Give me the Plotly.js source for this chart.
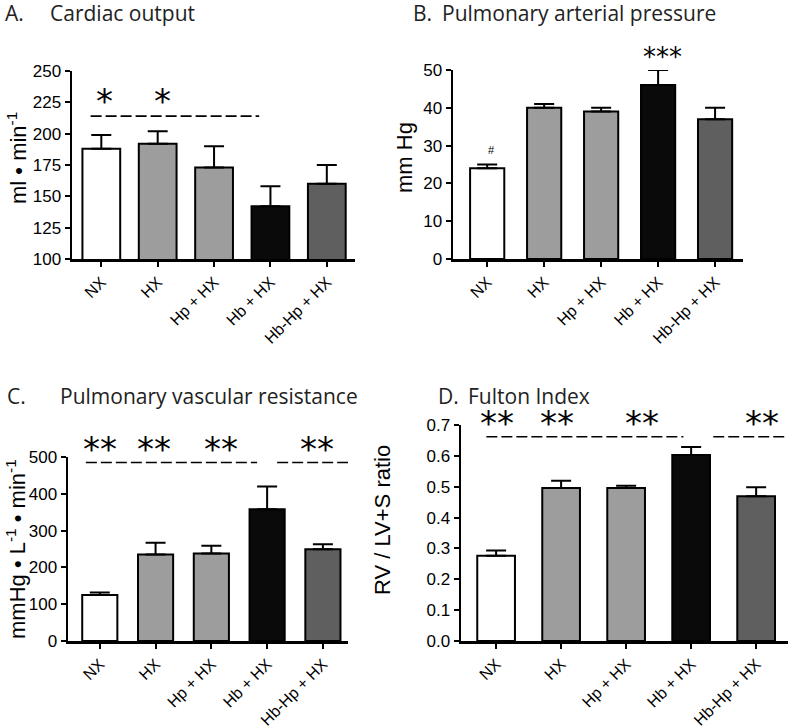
<!DOCTYPE html>
<html>
<head>
<meta charset="utf-8">
<script src="https://cdn.plot.ly/plotly-3.0.1.min.js"></script>
<style>html,body{margin:0;padding:0;background:#fff;}#chart{width:800px;height:726px;}</style>
</head>
<body>
<div id="chart"></div>
<script>
// ---- data ----
var groups = ["NX", "HX", "Hp + HX", "Hb + HX", "Hb-Hp + HX"];

var cardiacOutput    = [188, 192, 173, 142, 160];
var cardiacOutputErr = [11, 10, 17, 16, 15];

var papMean = [24, 40, 39, 46, 37];
var papErr  = [1, 1, 1, 4, 3];

var pvrMean = [125, 235, 238, 358, 249];
var pvrErr  = [7, 32, 21, 62, 14];

var fulton    = [0.276, 0.496, 0.496, 0.603, 0.469];
var fultonErr = [0.017, 0.023, 0.007, 0.026, 0.029];

var barColors = ["#ffffff", "#9d9d9d", "#9d9d9d", "#0a0a0a", "#5f5f5f"];

// significance markers (data units): lines [x from, x to, y], stars [x, y, text]
var sigLinesA = [[-0.19, 2.8, 214]];
var sigStarsA = [[0.05, 226, "*"], [1.08, 226, "*"]];
var sigStarsB = [[3.07, 53.4, "***"]];
var hashB     = [[0.07, 28.8, "#"]];
var sigLinesC = [[-0.25, 2.82, 485], [3.18, 4.6, 485]];
var sigStarsC = [[0, 521, "**"], [0.98, 521, "**"], [2.18, 521, "**"], [3.89, 521, "**"]];
var sigLinesD = [[-0.15, 2.88, 0.662], [3.34, 4.7, 0.662]];
var sigStarsD = [[0.02, 0.708, "**"], [0.94, 0.708, "**"], [2.25, 0.708, "**"], [4.09, 0.708, "**"]];

// ---- axes setup ----
var dom = {
  x:  [72/800, 355/800],  y:  [1 - 259/726, 1 - 71/726],
  x2: [453/800, 743/800], y2: [1 - 259/726, 1 - 70/726],
  x3: [68/800, 348/800],  y3: [1 - 641/726, 1 - 457/726],
  x4: [461/800, 788/800], y4: [1 - 641/726, 1 - 425/726]
};
var rng = {
  x: [-0.52, 4.5], y: [100, 250],
  x2: [-0.6, 4.49], y2: [0, 50],
  x3: [-0.57, 4.45], y3: [0, 500],
  x4: [-0.54, 4.49], y4: [0, 0.7]
};
function toPaperY(ya, v) {
  var d = dom[ya], r = rng[ya];
  return d[0] + (v - r[0]) / (r[1] - r[0]) * (d[1] - d[0]);
}

// ---- traces ----
function barTrace(vals, errs, xa, ya, w) {
  return {
    type: "bar", x: groups, y: vals, xaxis: xa, yaxis: ya, width: w,
    marker: {color: barColors, line: {color: "#000", width: 2}},
    error_y: {type: "data", array: errs, arrayminus: errs.map(function(){return 0;}),
              visible: true, color: "#000", thickness: 2, width: 10},
    showlegend: false, hoverinfo: "x+y"
  };
}
var data = [
  barTrace(cardiacOutput, cardiacOutputErr, "x", "y", 0.67),
  barTrace(papMean, papErr, "x2", "y2", 0.6),
  barTrace(pvrMean, pvrErr, "x3", "y3", 0.63),
  barTrace(fulton, fultonErr, "x4", "y4", 0.58)
];

var tickFont = {family: "Liberation Sans, Arial, sans-serif", size: 17, color: "#000"};
var xTickFont = {family: "Liberation Sans, Arial, sans-serif", size: 16, color: "#000"};
function xax(name, anchor) {
  return {domain: dom[name], range: rng[name], anchor: anchor, type: "category",
    showline: true, linewidth: 2.5, linecolor: "#000", showgrid: false, zeroline: false,
    ticks: "outside", ticklen: 5, tickwidth: 2, tickcolor: "#000",
    tickangle: -45, tickfont: xTickFont, fixedrange: true};
}
function yax(name, dt, anchor, fmt) {
  var o = {domain: dom[name], range: rng[name], anchor: anchor, dtick: dt, tick0: 0,
    showline: true, linewidth: 2.5, linecolor: "#000", showgrid: false, zeroline: false,
    ticks: "outside", ticklen: 5, tickwidth: 2, tickcolor: "#000",
    tickfont: tickFont, fixedrange: true};
  if (fmt) o.tickformat = fmt;
  return o;
}

var annotations = [];
var shapes = [];
function addTitle(letter, lx, text, tx, ypx) {
  var f = {family: "Open Sans, Noto Sans, sans-serif", size: 21, color: "#222"};
  annotations.push({text: letter, x: lx/800, y: 1 - ypx/726, xref: "paper", yref: "paper",
    xanchor: "left", yanchor: "middle", showarrow: false, font: f});
  annotations.push({text: text, x: tx/800, y: 1 - ypx/726, xref: "paper", yref: "paper",
    xanchor: "left", yanchor: "middle", showarrow: false, font: f});
}
addTitle("A.", 3, "Cardiac output", 48, 13);
addTitle("B.", 411, "Pulmonary arterial pressure", 440, 13);
addTitle("C.", 5, "Pulmonary vascular resistance", 58, 396);
addTitle("D.", 436, "Fulton Index", 466, 396);

function addYTitle(text, xpx, ypx) {
  annotations.push({text: text, x: xpx/800, y: 1 - ypx/726, xref: "paper", yref: "paper",
    xanchor: "center", yanchor: "middle", textangle: -90, showarrow: false,
    font: {family: "Liberation Sans, Arial, sans-serif", size: 22, color: "#000"}});
}
addYTitle("ml \u2022 min<sup>-1</sup>", 17, 158);
addYTitle("mm Hg", 405, 158);
addYTitle("mmHg \u2022 L<sup>-1</sup> \u2022 min<sup>-1</sup>", 16, 549);
addYTitle("RV / LV+S ratio", 382, 520);

function addStars(list, xa, ya, size) {
  list.forEach(function(s) {
    annotations.push({text: s[2], x: s[0], y: toPaperY(ya, s[1]), xref: xa, yref: "paper",
      xanchor: "center", yanchor: "middle", showarrow: false,
      font: {family: "DejaVu Sans, sans-serif", size: size, color: "#000"}});
  });
}
function addLines(list, xa, ya) {
  list.forEach(function(l) {
    shapes.push({type: "line", xref: xa, yref: ya, x0: l[0], x1: l[1], y0: l[2], y1: l[2],
      line: {color: "#000", width: 1.6, dash: "11px,4px"}});
  });
}
addLines(sigLinesA, "x", "y");
addStars(sigStarsA, "x", "y", 34);
addStars(sigStarsB, "x2", "y2", 26);
annotations.push({text: hashB[0][2], x: hashB[0][0], y: hashB[0][1], xref: "x2", yref: "y2",
  showarrow: false, font: {family: "Liberation Sans, Arial, sans-serif", size: 11, color: "#000"}});
addLines(sigLinesC, "x3", "y3");
addStars(sigStarsC, "x3", "y3", 34);
addLines(sigLinesD, "x4", "y4");
addStars(sigStarsD, "x4", "y4", 34);

var layout = {
  width: 800, height: 726,
  margin: {l: 0, r: 0, t: 0, b: 0},
  paper_bgcolor: "#fff", plot_bgcolor: "rgba(0,0,0,0)",
  showlegend: false,
  xaxis:  xax("x", "y"),
  yaxis:  yax("y", 25, "x"),
  xaxis2: xax("x2", "y2"),
  yaxis2: yax("y2", 10, "x2"),
  xaxis3: xax("x3", "y3"),
  yaxis3: yax("y3", 100, "x3"),
  xaxis4: xax("x4", "y4"),
  yaxis4: yax("y4", 0.1, "x4", ".1f"),
  annotations: annotations,
  shapes: shapes
};

Plotly.newPlot("chart", data, layout, {staticPlot: true, displayModeBar: false});
</script>
</body>
</html>
